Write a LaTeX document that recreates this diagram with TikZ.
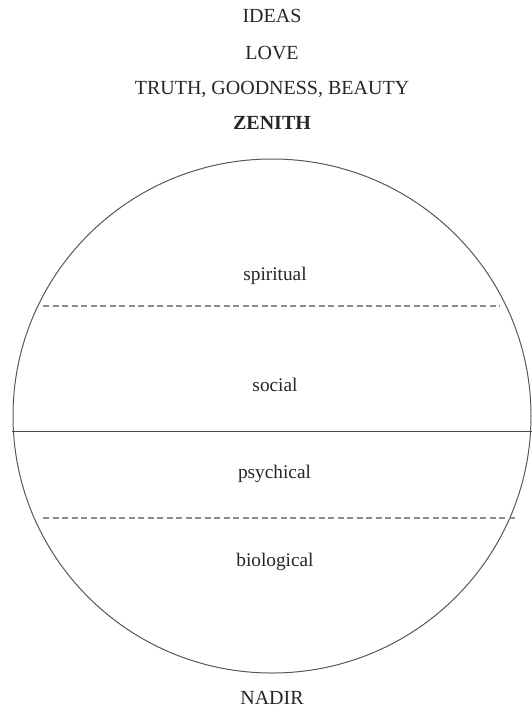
\documentclass[tikz,border=0pt]{standalone}
\usepackage{fontspec}
\setmainfont{Liberation Serif}
\begin{document}
\begin{tikzpicture}[x=1pt,y=-1pt,
  captext/.style={anchor=base,inner sep=0pt,font=\fontsize{20}{22}\selectfont,text=black!85},
  lowtext/.style={anchor=base,inner sep=0pt,font=\fontsize{19.3}{21}\selectfont,text=black!85},
  rim/.style={draw=black!65,line width=1pt},
  divider/.style={draw=black!70,line width=1.1pt},
  layer/.style={draw=black!45,line width=1.2pt,dash pattern=on 6pt off 3.5pt}]
\useasboundingbox (0,0) rectangle (532,707);
\fill[white] (0,0) rectangle (532,707);
\node[captext] (ideas) at (272,22.7) {IDEAS};
\node[captext] (love) at (272,59.4) {LOVE};
\node[captext] (tgb) at (272,94.7) {TRUTH, GOODNESS, BEAUTY};
\node[captext,font=\fontsize{20}{22}\selectfont\bfseries] (zenith) at (272,129.4) {ZENITH};
\coordinate (c) at (272,416);
\draw[rim] (c) ellipse [x radius=259, y radius=257];
\coordinate (dl1) at (43,306);
\coordinate (dr1) at (500,306);
\coordinate (sl) at (12,431.7);
\coordinate (sr) at (532,431.7);
\coordinate (dl2) at (43,518);
\coordinate (dr2) at (517,518);
\draw[layer] (dl1) -- (dr1);
\draw[divider] (sl) -- (sr);
\draw[layer] (dl2) -- (dr2);
\node[lowtext] (spiritual) at (275,280) {spiritual};
\node[lowtext] (social) at (275,391) {social};
\node[lowtext] (psychical) at (274.5,478) {psychical};
\node[lowtext] (biological) at (275,566.5) {biological};
\node[captext] (nadir) at (272,704) {NADIR};
\end{tikzpicture}
\end{document}
